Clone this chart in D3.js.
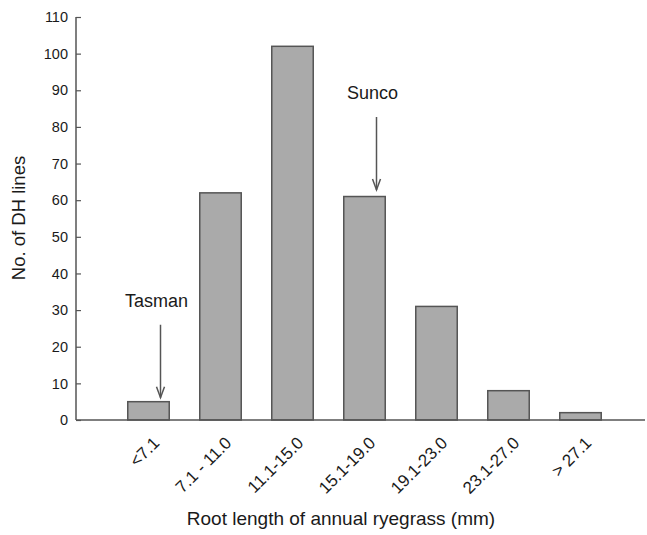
<!DOCTYPE html>
<html>
<head>
<meta charset="utf-8">
<script src="https://cdn.jsdelivr.net/npm/d3@7"></script>
<style>
  body { margin: 0; background: #fff; }
  text { font-family: "Liberation Sans", Arial, sans-serif; fill: #1a1a1a; }
</style>
</head>
<body>
<svg id="chart" width="647" height="535"></svg>
<script>
const categories = ["<7.1", "7.1 - 11.0", "11.1-15.0", "15.1-19.0", "19.1-23.0", "23.1-27.0", "> 27.1"];
const counts = [5, 62, 102, 61, 31, 8, 2];
const yTicks = [0, 10, 20, 30, 40, 50, 60, 70, 80, 90, 100, 110];

// annotations: which bar, arrow from / to (in data units)
const notes = [
  { label: "Tasman", category: "<7.1", from: 26, to: 6.1 },
  { label: "Sunco", category: "15.1-19.0", from: 82.7, to: 62.8 }
];

const marginLeft = 76;
const axisBottom = 420;
const axisTop = 17;

const svg = d3.select("#chart");

const x = d3
  .scaleBand()
  .domain(categories)
  .range([112.5, 616.5])
  .paddingInner(0.424)
  .paddingOuter(0.212);

const y = d3
  .scaleLinear()
  .domain([0, 110])
  .range([axisBottom, axisTop]);

// y axis
const yAxis = svg
  .append("g")
  .attr("transform", `translate(${marginLeft},0)`)
  .call(d3.axisRight(y).tickValues(yTicks).tickSize(5).tickFormat(d3.format("d")));

yAxis.select(".domain").remove();
yAxis.selectAll("line").attr("stroke", "#555").attr("stroke-width", 1.2);
yAxis
  .selectAll("text")
  .attr("x", -8)
  .attr("text-anchor", "end")
  .attr("font-size", 14.5)
  .attr("fill", "#1a1a1a");

svg
  .append("line")
  .attr("x1", marginLeft)
  .attr("x2", marginLeft)
  .attr("y1", axisTop)
  .attr("y2", axisBottom)
  .attr("stroke", "#555")
  .attr("stroke-width", 1.5);

// bars
svg
  .append("g")
  .selectAll("rect")
  .data(counts)
  .join("rect")
  .attr("x", (d, i) => x(categories[i]))
  .attr("y", (d) => y(d))
  .attr("width", x.bandwidth())
  .attr("height", (d) => y(0) - y(d))
  .attr("fill", "#aaaaaa")
  .attr("stroke", "#555")
  .attr("stroke-width", 1.5);

// x axis line
svg
  .append("line")
  .attr("x1", marginLeft)
  .attr("x2", 645)
  .attr("y1", axisBottom)
  .attr("y2", axisBottom)
  .attr("stroke", "#555")
  .attr("stroke-width", 1.5);

// category labels
svg
  .append("g")
  .selectAll("text")
  .data(categories)
  .join("text")
  .attr("transform", (d) => `translate(${x(d) + x.bandwidth() / 2 + 12},${axisBottom + 24}) rotate(-45)`)
  .attr("text-anchor", "end")
  .attr("font-size", 17)
  .text((d) => d);

// annotations
const ann = svg.append("g");
notes.forEach((n) => {
  const ax = x(n.category) + x.bandwidth() / 2 + 12;
  const y0 = y(n.from);
  const y1 = y(n.to);
  ann
    .append("text")
    .attr("x", ax - 4)
    .attr("y", y0 - 18)
    .attr("text-anchor", "middle")
    .attr("font-size", 18)
    .text(n.label);
  ann
    .append("line")
    .attr("x1", ax)
    .attr("x2", ax)
    .attr("y1", y0)
    .attr("y2", y1)
    .attr("stroke", "#555")
    .attr("stroke-width", 1.5);
  ann
    .append("path")
    .attr("d", `M${ax - 4},${y1 - 11}L${ax},${y1}L${ax + 4},${y1 - 11}`)
    .attr("fill", "none")
    .attr("stroke", "#555")
    .attr("stroke-width", 1.5);
});

// axis titles
svg
  .append("text")
  .attr("x", 341)
  .attr("y", 525)
  .attr("text-anchor", "middle")
  .attr("font-size", 19)
  .text("Root length of annual ryegrass (mm)");

svg
  .append("text")
  .attr("transform", `translate(25,218) rotate(-90)`)
  .attr("text-anchor", "middle")
  .attr("font-size", 18.5)
  .text("No. of DH lines");
</script>
</body>
</html>
